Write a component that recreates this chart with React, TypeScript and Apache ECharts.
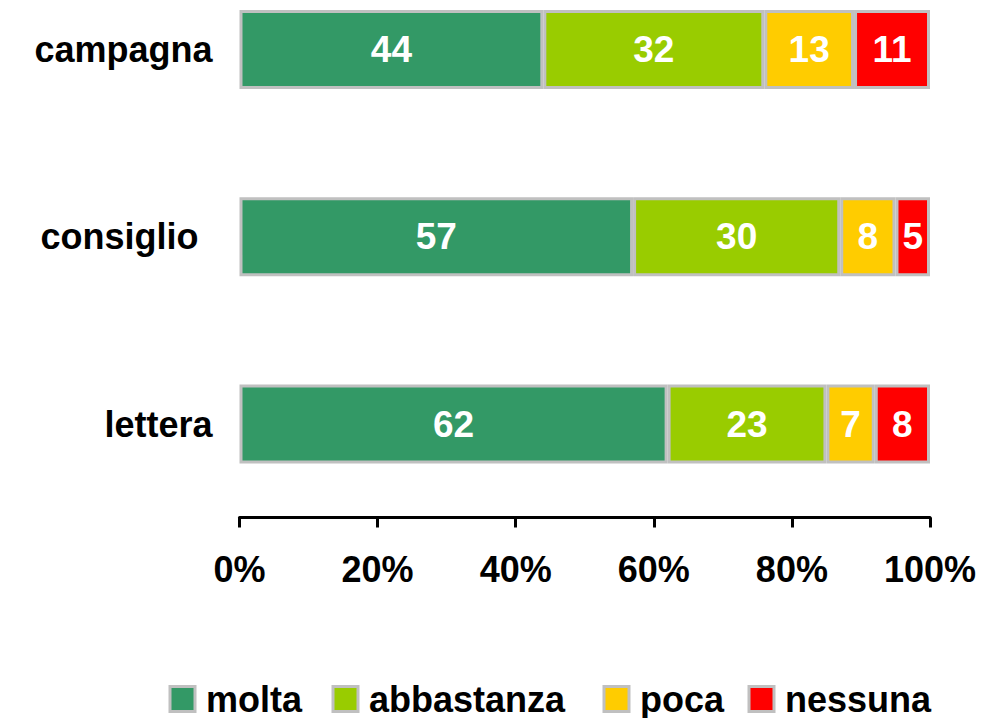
import React, { useEffect, useRef } from "react";
import * as echarts from "echarts";

const categories = ["campagna", "consiglio", "lettera"];
const seriesNames = ["molta", "abbastanza", "poca", "nessuna"];
const molta = [44, 57, 62];
const abbastanza = [32, 30, 23];
const poca = [13, 8, 7];
const nessuna = [11, 5, 8];
const xTicks = [0, 20, 40, 60, 80, 100];
const colors = ["#339966", "#99cc00", "#ffcc00", "#ff0000"];
const legendLefts = [168.5, 331.5, 602.5, 747.5];

const FONT = "'Liberation Sans', Arial, sans-serif";

export default function App() {
  const ref = useRef<HTMLDivElement>(null);
  useEffect(() => {
    if (!ref.current) return;
    const chart = echarts.init(ref.current, undefined, { renderer: "svg" });
    const values = [molta, abbastanza, poca, nessuna];
    const labelFont = {
      color: "#000",
      fontSize: 36,
      fontWeight: "bold" as const,
      fontFamily: FONT,
    };
    chart.setOption({
      animation: false,
      textStyle: { fontFamily: FONT },
      grid: { left: 239.5, right: 56, top: 49.5, bottom: 718 - 424 },
      xAxis: {
        type: "value",
        min: xTicks[0],
        max: xTicks[xTicks.length - 1],
        interval: 20,
        offset: 93.5,
        axisLine: { show: true, lineStyle: { color: "#000", width: 3 } },
        axisTick: { show: true, length: 10, lineStyle: { color: "#000", width: 3 } },
        splitLine: { show: false },
        axisLabel: {
          ...labelFont,
          formatter: "{value}%",
          margin: 34,
          lineHeight: 36,
        },
      },
      yAxis: {
        type: "category",
        data: categories,
        inverse: true,
        boundaryGap: false,
        axisLine: { show: false },
        axisTick: { show: false },
        axisLabel: {
          ...labelFont,
          margin: 27,
          formatter: (v: string) => (v === "consiglio" ? `{s|${v}}` : v),
          rich: {
            s: { ...labelFont, padding: [0, 14, 0, 0] },
          },
        },
      },
      legend: seriesNames.map((name, i) => ({
        data: [name],
        left: legendLefts[i],
        top: 681,
        padding: 0,
        itemWidth: 25,
        itemHeight: 25,
        icon: "rect",
        itemStyle: { borderColor: "#c0c0c0", borderWidth: 3 },
        textStyle: {
          ...labelFont,
          lineHeight: 36,
          padding: [0, 0, 0, 6],
        },
      })),
      series: seriesNames.map((name, i) => ({
        name,
        type: "bar",
        stack: "total",
        barWidth: 79,
        data: values[i],
        itemStyle: { color: colors[i], borderColor: "#c0c0c0", borderWidth: 3 },
        label: {
          show: true,
          position: "inside",
          color: "#fff",
          fontSize: 37,
          fontWeight: "bold",
          fontFamily: FONT,
        },
      })),
    });
    return () => chart.dispose();
  }, []);
  return <div ref={ref} style={{ width: 986, height: 718, position: "absolute", left: 0, top: 0 }} />;
}
